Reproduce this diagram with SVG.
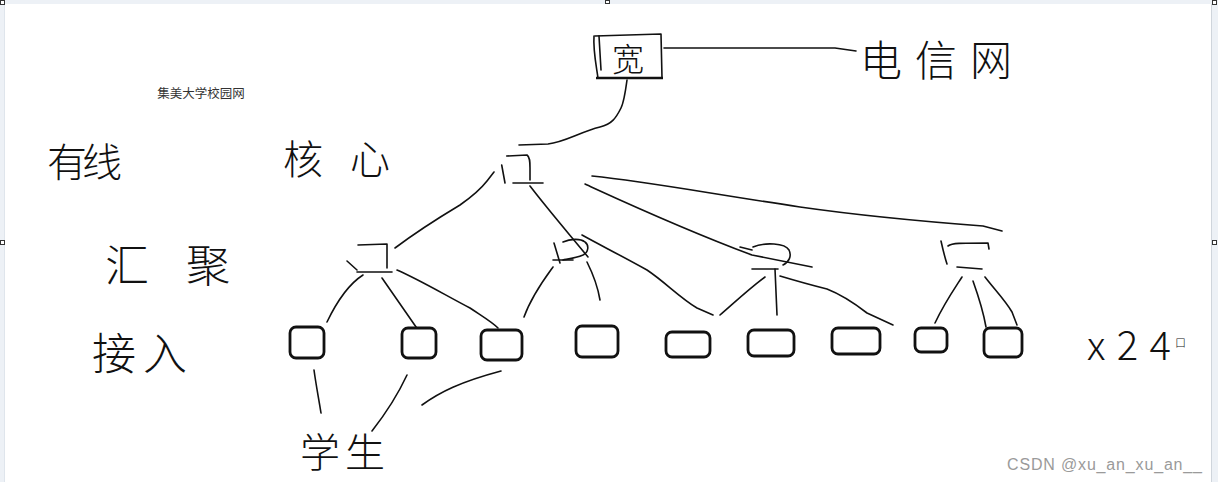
<svg xmlns="http://www.w3.org/2000/svg" width="1218" height="482" viewBox="0 0 1218 482">
<style>
.hand{fill:none;stroke:#111;stroke-width:1.6;stroke-linecap:round;stroke-linejoin:round}
.box{fill:#fff;stroke:#111;stroke-width:2.8}
.hw{font-family:"Noto Sans CJK SC","Noto Sans",sans-serif;font-weight:300;fill:#111;dominant-baseline:central}
.frame{fill:#edf1f6}
.handle{fill:#fff;stroke:#333;stroke-width:1}
</style>
<rect width="1218" height="482" fill="#fff"/>
<g id="frame">
<rect class="frame" x="0" y="0" width="1218" height="4"/>
<rect class="frame" x="0" y="0" width="4" height="482"/>
<rect class="frame" x="1211" y="0" width="7" height="482"/>
<line x1="4.5" y1="4" x2="4.5" y2="482" stroke="#dfe5ec" stroke-width="1"/>
<line x1="1211.5" y1="4" x2="1211.5" y2="482" stroke="#cfd5dc" stroke-width="1"/>
<rect class="handle" x="0.5" y="0.5" width="4" height="4"/>
<rect class="handle" x="605.5" y="0.5" width="4" height="3"/>
<rect class="handle" x="1212.5" y="0.5" width="4" height="4"/>
<rect class="handle" x="0.5" y="240.5" width="4" height="4"/>
<rect class="handle" x="1212.5" y="240.5" width="4" height="4"/>
</g>
<g id="title"><text x="201" y="92" font-family="Noto Sans CJK SC,sans-serif" font-size="12.5" fill="#333" text-anchor="middle" dominant-baseline="central">集美大学校园网</text></g>
<g id="labels">
<text class="hw" x="47" y="160" font-size="40" textLength="75">有线</text>
<text class="hw" x="283" y="157" font-size="40" textLength="107">核心</text>
<text class="hw" x="105" y="263" font-size="44" textLength="125">汇聚</text>
<text class="hw" x="92" y="351" font-size="44" textLength="95">接入</text>
</g>
<g id="connectors">
<path class="hand" d="M664,48 L835,48 L856,51"/>
<path class="hand" d="M627,80 C625,95 624,102 621,108 C616,118 612,124 600,127 C580,132 565,142 548,144 L519,145"/>
<path class="hand" d="M494,172 L487,181 C480,190 470,198 460,205 C440,217 415,233 395,248"/>
<path class="hand" d="M530,186 C550,212 570,235 588,257"/>
<path class="hand" d="M592,176 C650,182 700,192 800,207 C870,217 930,222 983,226 L1002,231"/>
<path class="hand" d="M585,184 C620,200 680,228 752,255 L812,267"/>
<path class="hand" d="M363,275 C352,282 340,295 327,322"/>
<path class="hand" d="M382,278 L423,337"/>
<path class="hand" d="M397,270 C420,280 445,295 470,308 C485,318 492,322 498,328"/>
<path class="hand" d="M553,267 C545,278 532,295 524,317"/>
<path class="hand" d="M587,262 C592,272 598,288 600,300"/>
<path class="hand" d="M582,235 C600,245 620,255 647,270 C665,282 680,298 697,308 L713,315"/>
<path class="hand" d="M765,277 C750,288 735,302 720,315"/>
<path class="hand" d="M775,269 L777,315"/>
<path class="hand" d="M780,276 C800,282 815,286 827,289 C845,296 858,306 867,313 L893,325"/>
<path class="hand" d="M962,277 C955,288 945,302 935,323"/>
<path class="hand" d="M973,281 C978,295 983,310 986,327"/>
<path class="hand" d="M985,277 C995,290 1005,300 1012,312 L1017,325"/>
<path class="hand" d="M314,370 C316,385 319,400 321,413"/>
<path class="hand" d="M407,375 C400,390 390,408 372,431"/>
<path class="hand" d="M422,405 C440,392 460,382 501,371"/>
</g>
<g id="isp">
<path class="hand" d="M595,36 L661,34 L662,78"/>
<path class="hand" d="M594,36 C593,50 596,64 598,78"/>
<path class="hand" d="M599,36 L601,70"/>
<line x1="596" y1="78" x2="663" y2="78" stroke="#111" stroke-width="2.4"/>
<text class="hw" x="628" y="57" font-size="32" text-anchor="middle">宽</text>
</g>
<g id="telecom"><text class="hw" x="860" y="57" font-size="42" textLength="152">电信网</text></g>
<g id="core">
<path class="hand" d="M501.7,165 L505,183"/>
<path class="hand" d="M506.7,156 L527,155 C530,157 530,162 530,168 L530,180"/>
<path class="hand" d="M513,183 L543,183"/>
</g>
<g id="agg1">
<path class="hand" d="M358,245 L387,244 L387,268"/>
<path class="hand" d="M357,272 L392,272"/>
<path class="hand" d="M347,261 L357,270"/>
</g>
<g id="agg2">
<path class="hand" d="M554,243 L560,263"/>
<path class="hand" d="M563,242 C570,239 580,238 585,242 C589,245 589,252 583,255 C576,258 568,259 563,260"/>
<path class="hand" d="M553,260 L573,260"/>
</g>
<g id="agg3">
<path class="hand" d="M740,247 L752,250"/>
<path class="hand" d="M753,247 C765,242 785,243 789,250 C792,256 789,262 783,265"/>
<path class="hand" d="M752,269 L778,269"/>
</g>
<g id="agg4">
<path class="hand" d="M941,241 C943,250 945,258 947,264"/>
<path class="hand" d="M948,246 C952,243 960,243 988,243 L989,249"/>
<path class="hand" d="M957,267 L982,269"/>
</g>
<g id="acc1"><rect class="box" x="290" y="327" width="34" height="31" rx="6"/></g>
<g id="acc2"><rect class="box" x="402" y="328" width="34" height="30" rx="6"/></g>
<g id="acc3"><rect class="box" x="481" y="330" width="41" height="30" rx="6"/></g>
<g id="acc4"><rect class="box" x="576" y="326" width="42" height="31" rx="6"/></g>
<g id="acc5"><rect class="box" x="666" y="332" width="44" height="25" rx="6"/></g>
<g id="acc6"><rect class="box" x="748" y="330" width="46" height="26" rx="6"/></g>
<g id="acc7"><rect class="box" x="832" y="328" width="48" height="26" rx="6"/></g>
<g id="acc8"><rect class="box" x="915" y="328" width="32" height="24" rx="6"/></g>
<g id="acc9"><rect class="box" x="984" y="328" width="38" height="29" rx="6"/></g>
<g id="count"><text class="hw" x="1087" y="343" font-size="40" textLength="84">x24</text><text class="hw" x="1175" y="342" font-size="11">口</text></g>
<g id="students"><text class="hw" x="300" y="450" font-size="40" textLength="85">学生</text></g>
<g id="watermark"><text x="1007" y="464" font-family="Liberation Sans,Arial,sans-serif" font-size="16" fill="#9a9a9a" dominant-baseline="central" textLength="195">CSDN @xu_an_xu_an__</text></g>
</svg>
